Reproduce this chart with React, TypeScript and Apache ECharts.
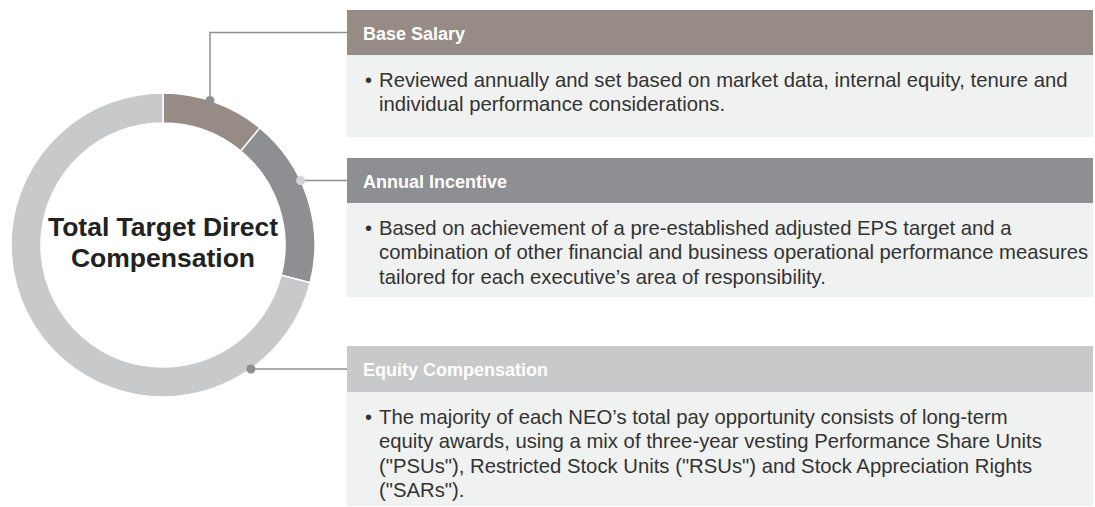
import React, { useEffect, useRef } from "react";
import * as echarts from "echarts";

const categories = ["Base Salary", "Annual Incentive", "Equity Compensation"];
const values = [11, 18, 71];
const centerTitle = ["Total Target Direct", "Compensation"];
const descriptions = [
  [
    "Reviewed annually and set based on market data, internal equity, tenure and",
    "individual performance considerations.",
  ],
  [
    "Based on achievement of a pre-established adjusted EPS target and a",
    "combination of other financial and business operational performance measures",
    "tailored for each executive\u2019s area of responsibility.",
  ],
  [
    "The majority of each NEO\u2019s total pay opportunity consists of long-term",
    "equity awards, using a mix of three-year vesting Performance Share Units",
    "(\"PSUs\"), Restricted Stock Units (\"RSUs\") and Stock Appreciation Rights",
    "(\"SARs\").",
  ],
];

const COLORS = ["#978b86", "#8e8f93", "#c8c9cb"];
const DOT_COLORS = ["#8e9093", "#d2d3d5", "#8e8f92"];
const FONT = "Liberation Sans";

const CX = 163;
const CY = 245;
const R_IN = 122;
const R_OUT = 152;
const BOX_X = 347;
const BOX_R = 1093;
// header top, header bottom, body bottom
const BOXES = [
  [10, 55, 137],
  [158, 203, 297],
  [346, 392, 506],
];
const BASE_DOT_ANGLE = 18; // degrees clockwise from 12 o'clock

export default function App() {
  const ref = useRef<HTMLDivElement>(null);
  useEffect(() => {
    if (!ref.current) return;
    const chart = echarts.init(ref.current, undefined, { renderer: "svg" });
    const graphics: any[] = [];

    categories.forEach((name, i) => {
      const [ht, hb, bb] = BOXES[i];
      const w = BOX_R - BOX_X;
      graphics.push({
        type: "rect",
        shape: { x: BOX_X, y: hb, width: w, height: bb - hb },
        style: { fill: "#f0f1f1" },
        z: 1,
      });
      graphics.push({
        type: "rect",
        shape: { x: BOX_X, y: ht, width: w, height: hb - ht },
        style: { fill: COLORS[i] },
        z: 2,
      });
      graphics.push({
        type: "text",
        x: 363,
        y: (ht + hb) / 2 + 1,
        style: {
          text: name,
          fill: "#ffffff",
          fontFamily: FONT,
          fontWeight: "bold",
          fontSize: 18,
          verticalAlign: "middle",
          align: "left",
        },
        z: 3,
      });
      const lines = descriptions[i];
      lines.forEach((ln, j) => {
        const y = hb + 25 + j * 24.3;
        if (j === 0) {
          graphics.push({
            type: "text",
            x: 365,
            y,
            style: {
              text: "\u2022",
              fill: "#333333",
              fontFamily: FONT,
              fontSize: 20,
              verticalAlign: "middle",
              align: "left",
            },
            z: 3,
          });
        }
        graphics.push({
          type: "text",
          x: 379,
          y,
          style: {
            text: ln,
            fill: "#333333",
            fontFamily: FONT,
            fontSize: 20.3,
            verticalAlign: "middle",
            align: "left",
          },
          z: 3,
        });
      });

      // connector
      const hy = (ht + hb) / 2;
      let dx: number, dy: number;
      if (i === 0) {
        const a = (BASE_DOT_ANGLE * Math.PI) / 180;
        dx = CX + R_OUT * Math.sin(a);
        dy = CY - R_OUT * Math.cos(a);
        graphics.push({
          type: "polyline",
          shape: { points: [[dx, dy], [dx, hy], [BOX_X, hy]] },
          style: { stroke: "#8f8f8f", lineWidth: 1.5, fill: "none" },
          z: 5,
        });
      } else {
        const off = hy - CY;
        dy = hy;
        dx = CX + Math.sqrt(R_OUT * R_OUT - off * off);
        graphics.push({
          type: "line",
          shape: { x1: dx, y1: dy, x2: BOX_X, y2: dy },
          style: { stroke: "#8f8f8f", lineWidth: 1.5 },
          z: 5,
        });
      }
      graphics.push({
        type: "circle",
        shape: { cx: dx, cy: dy, r: 4.5 },
        style: { fill: DOT_COLORS[i] },
        z: 6,
      });
    });

    centerTitle.forEach((t, k) => {
      graphics.push({
        type: "text",
        x: CX,
        y: CY - 18 + k * 31,
        style: {
          text: t,
          fill: "#222222",
          fontFamily: FONT,
          fontWeight: "bold",
          fontSize: 26.5,
          align: "center",
          verticalAlign: "middle",
        },
        z: 7,
      });
    });

    chart.setOption({
      animation: false,
      backgroundColor: "#ffffff",
      series: [
        {
          type: "pie",
          center: [CX, CY],
          radius: [R_IN, R_OUT],
          startAngle: 90,
          clockwise: true,
          label: { show: false },
          labelLine: { show: false },
          silent: true,
          itemStyle: { borderColor: "#ffffff", borderWidth: 1.5 },
          data: categories.map((name, i) => ({
            name,
            value: values[i],
            itemStyle: { color: COLORS[i] },
          })),
          z: 2,
        },
      ],
      graphic: { elements: graphics },
    });
    return () => chart.dispose();
  }, []);
  return (
    <div
      ref={ref}
      style={{ position: "fixed", left: 0, top: 0, width: 1095, height: 507 }}
    />
  );
}
